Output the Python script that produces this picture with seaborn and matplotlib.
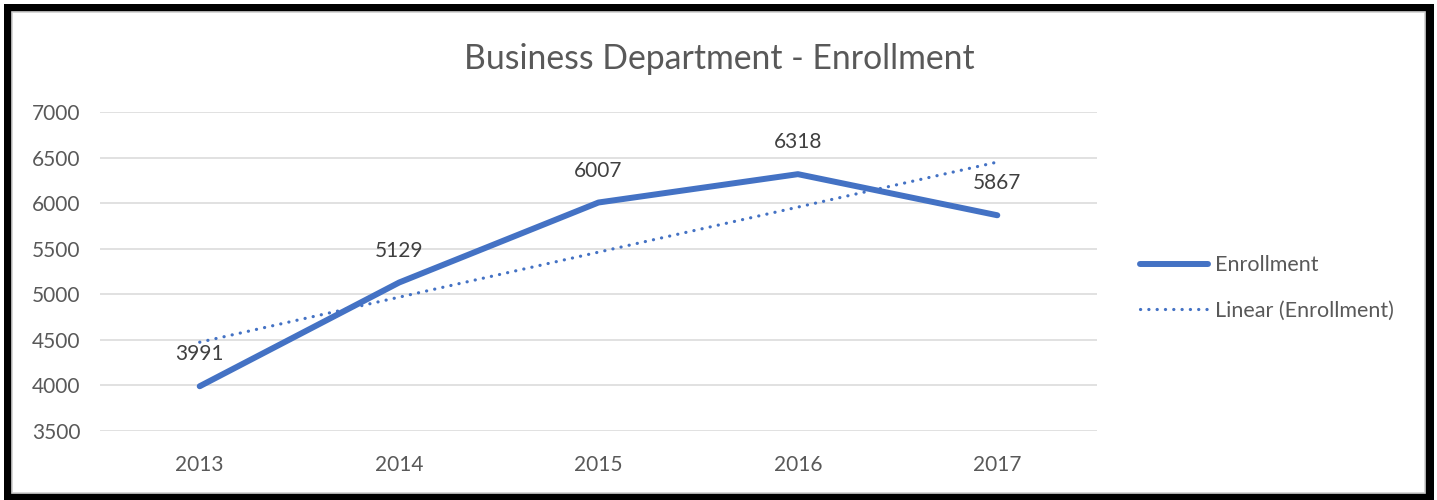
import numpy as np
import pandas as pd
import matplotlib
matplotlib.use("Agg")
import matplotlib.pyplot as plt
from matplotlib.patches import Rectangle
import seaborn as sns

# Enrollment per academic year
years = [2013, 2014, 2015, 2016, 2017]
enrollment = [3991, 5129, 6007, 6318, 5867]
y_ticks = [3500, 4000, 4500, 5000, 5500, 6000, 6500, 7000]
title = "Business Department - Enrollment"
series_label = "Enrollment"
trend_label = "Linear (Enrollment)"

df = pd.DataFrame({"Year": years, "Enrollment": enrollment})

sns.set_style("white")
plt.rcParams["font.family"] = ["Lato", "DejaVu Sans"]

W, H = 1437, 500
fig = plt.figure(figsize=(W / 100, H / 100), dpi=100)
fig.patch.set_facecolor("white")

# Thick black frame with a thin grey inner rule
fig.patches.append(Rectangle((4 / W, 0), 1430 / W, 496 / H, transform=fig.transFigure,
                             facecolor="black", edgecolor="none", zorder=-10))
fig.patches.append(Rectangle((12 / W, 7 / H), 1413 / W, 481 / H, transform=fig.transFigure,
                             facecolor="white", edgecolor="#d0d0d0", linewidth=1.2, zorder=-9))

ax = fig.add_axes([100 / W, (500 - 431) / H, 997 / W, 319 / H])
ax.set_facecolor("none")

blue = "#4472C4"
sns.lineplot(data=df, x="Year", y="Enrollment", ax=ax, color=blue, linewidth=4.3,
             label=series_label, solid_capstyle="round", solid_joinstyle="round", zorder=3)
sns.regplot(data=df, x="Year", y="Enrollment", ax=ax, scatter=False, ci=None,
            truncate=True, label=trend_label, color=blue,
            line_kws={"linewidth": 2.3, "linestyle": (0, (0.05, 2.55)),
                      "dash_capstyle": "round", "zorder": 2})

ax.set_xlim(years[0] - 0.5, years[-1] + 0.5)
ax.set_ylim(y_ticks[0], y_ticks[-1])
ax.set_xticks(years)
ax.set_xticklabels([str(y) for y in years])
ax.set_yticks(y_ticks)
ax.set_yticklabels([str(t) for t in y_ticks])
ax.set_xlabel("")
ax.set_ylabel("")
ax.grid(axis="y", color="#d9d9d9", linewidth=1.1)
ax.grid(axis="x", visible=False)
ax.set_axisbelow(True)
for s in ax.spines.values():
    s.set_visible(False)
ax.tick_params(axis="both", length=0, labelsize=15, labelcolor="#595959")
ax.tick_params(axis="y", pad=14)
ax.tick_params(axis="x", pad=17)

# Value labels above each point
for x, y in zip(years, enrollment):
    ax.annotate(f"{y}", (x, y), xytext=(0, 23), textcoords="offset points",
                ha="center", va="center", fontsize=15, color="#404040")

fig.text(719 / W, 1 - 59 / H, title, ha="center", va="center",
         fontsize=24.3, color="#595959")

handles, labels = ax.get_legend_handles_labels()
if ax.get_legend() is not None:
    ax.get_legend().remove()
fig.legend(handles, labels, loc="center left", bbox_to_anchor=(1121 / W, 1 - 288 / H),
           frameon=False, fontsize=15.5, labelcolor="#595959", handlelength=3.15,
           handletextpad=0.3, labelspacing=1.2)

fig.savefig("out.png", dpi=100)
